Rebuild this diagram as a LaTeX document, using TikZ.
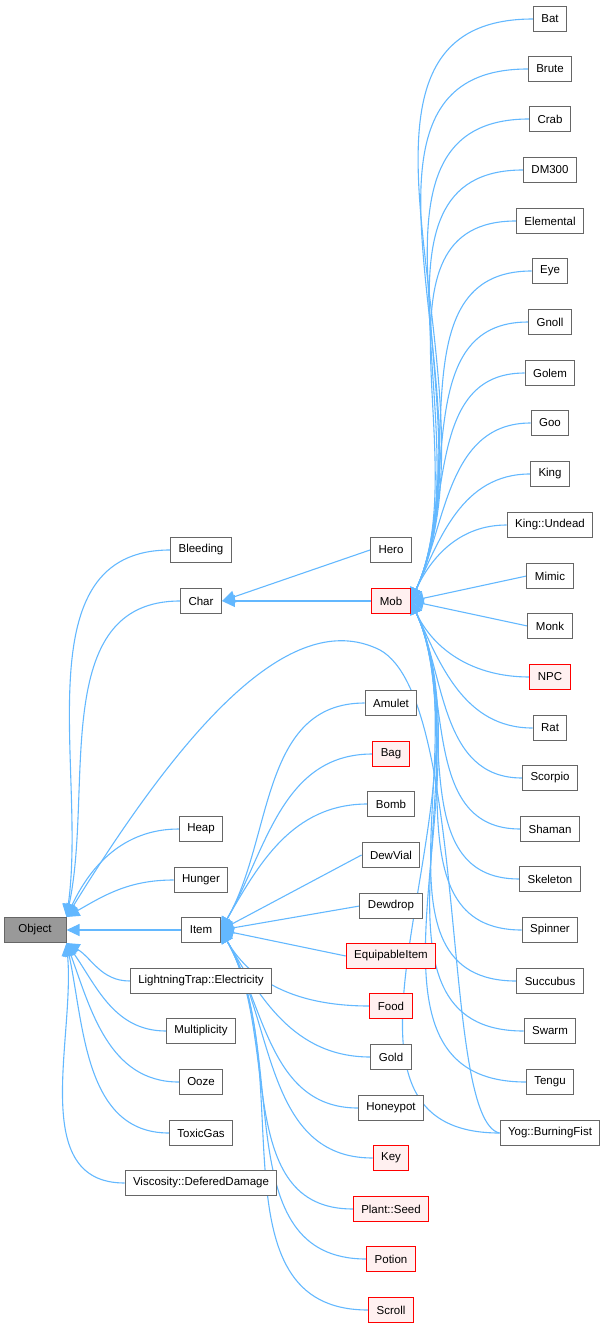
\documentclass[tikz,border=0pt]{standalone}
\usepackage{fontspec}
\setmainfont{Liberation Sans}
\usetikzlibrary{arrows.meta,backgrounds}

\tikzset{
  cls/.style={draw=black!60, fill=white, inner xsep=8pt, minimum height=25pt,
    line width=1pt, font=\fontsize{11.5}{14}\selectfont},
  part/.style={cls, draw=red, fill=red!6},
  base/.style={cls, fill=black!40},
  inh/.style={draw={rgb,255:red,99;green,184;blue,255}, line width=1.1pt,
    -{Triangle[length=13pt,width=12pt]}}
}

\begin{document}
\begin{tikzpicture}[x=1pt,y=-1pt]
  \useasboundingbox (0,0) rectangle (614,1329);

  % the root and its direct subclasses
  \node [base, minimum width=62pt] (Object) at (35,930) {Object};
  \foreach \n/\y in {Bleeding/550, Char/601, Heap/829, Hunger/880, Item/930,
      Multiplicity/1031, Ooze/1082, ToxicGas/1133}
    \node [cls] (\n) at (201,\y) {\n};
  \node [cls] (Elec) at (201,981) {LightningTrap::Electricity};
  \node [cls] (Defer) at (201,1183) {Viscosity::DeferedDamage};

  % heroes and monsters
  \node [cls] (Hero) at (391,550) {Hero};
  \node [part] (Mob) at (391,601) {Mob};

  % items
  \foreach \n/\y/\s in {Amulet/703/cls, Bag/754/part, Bomb/804/cls, DewVial/855/cls,
      Dewdrop/906/cls, EquipableItem/956/part, Food/1006/part, Gold/1057/cls,
      Honeypot/1108/cls, Key/1158/part, Potion/1259/part, Scroll/1310/part}
    \node [\s] (\n) at (391,\y) {\n};
  \node [part] (Seed) at (391,1209) {Plant::Seed};

  % mobs
  \foreach \n/\y/\s in {Bat/19/cls, Brute/69/cls, Crab/119/cls, DM300/170/cls,
      Elemental/221/cls, Eye/271/cls, Gnoll/322/cls, Golem/373/cls, Goo/423/cls,
      King/474/cls, Mimic/576/cls, Monk/626/cls, NPC/677/part, Rat/728/cls,
      Scorpio/778/cls, Shaman/829/cls, Skeleton/879/cls, Spinner/930/cls,
      Succubus/981/cls, Swarm/1031/cls, Tengu/1082/cls}
    \node [\s] (\n) at (550,\y) {\n};
  \node [cls] (Undead) at (550,525) {King::Undead};
  \node [cls] (Yog) at (550,1133) {Yog::BurningFist};

  \begin{scope}[on background layer]
  % inheritance towards Object
  \foreach \n/\a in {Bleeding/82, Char/78, Heap/65, Hunger/30}
    \draw [inh] (\n.west) to[out=180,in=\a] (Object.north east);
  \draw [inh] (Item) -- (Object);
  \foreach \n/\a in {Elec/-30, Multiplicity/-55, Ooze/-70, ToxicGas/-78, Defer/-85}
    \draw [inh] (\n.west) to[out=180,in=\a] (Object.south east);
  \draw [inh] (Yog.west) .. controls (440,1120) and (470,700) .. (380,650)
    .. controls (300,610) and (200,700) .. (Object.north east);

  % inheritance towards Char and Mob
  \draw [inh] (Hero.west) -- (Char.east);
  \draw [inh] (Mob) -- (Char);
  \foreach \n in {Bat, Brute, Crab, DM300, Elemental, Eye, Gnoll, Golem, Goo,
      King, Undead}
    \draw [inh] (\n.west) to[out=180,in=65] (Mob.east);
  \draw [inh] (Mimic.west) -- (Mob.east);
  \draw [inh] (Monk.west) -- (Mob.east);
  \foreach \n in {NPC, Rat, Scorpio, Shaman, Skeleton, Spinner, Succubus, Swarm,
      Tengu, Yog}
    \draw [inh] (\n.west) to[out=180,in=-65] (Mob.east);

  % inheritance towards Item
  \foreach \n in {Amulet, Bag, Bomb}
    \draw [inh] (\n.west) to[out=180,in=60] (Item.east);
  \foreach \n in {DewVial, Dewdrop, EquipableItem}
    \draw [inh] (\n.west) -- (Item.east);
  \foreach \n in {Food, Gold, Honeypot, Key, Seed, Potion, Scroll}
    \draw [inh] (\n.west) to[out=180,in=-60] (Item.east);
  \end{scope}
\end{tikzpicture}
\end{document}
